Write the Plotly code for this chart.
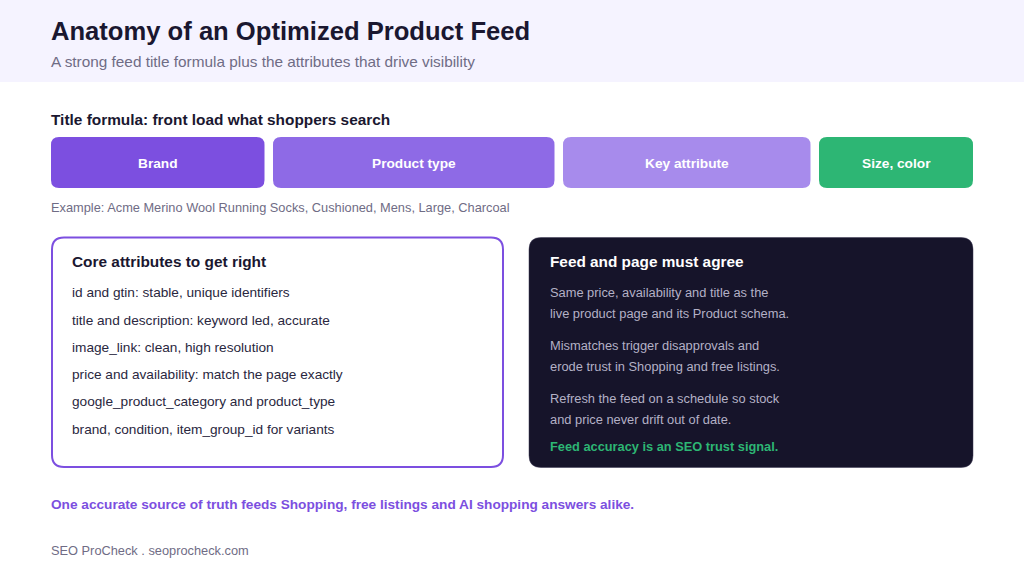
"""Anatomy of an optimized product feed: title formula strip plus two text panels."""

import plotly.graph_objects as go

INK = "#1A1730"
MUTED = "#6F6C85"
PURPLE = "#7C4FE0"
GREEN = "#2DB674"
DARK = "#16142A"
FONT = "Liberation Sans"
H = 576

TITLE = "Anatomy of an Optimized Product Feed"
SUBTITLE = "A strong feed title formula plus the attributes that drive visibility"
FORMULA_HEADING = "Title formula: front load what shoppers search"
EXAMPLE = "Example: Acme Merino Wool Running Socks, Cushioned, Mens, Large, Charcoal"
LEFT_HEADING = "Core attributes to get right"
RIGHT_HEADING = "Feed and page must agree"
RIGHT_NOTE = "Feed accuracy is an SEO trust signal."
TAKEAWAY = "One accurate source of truth feeds Shopping, free listings and AI shopping answers alike."
FOOTER = "SEO ProCheck . seoprocheck.com"

# formula strip: label, start and width of each segment on the 1024 px wide axis
segment_labels = ["Brand", "Product type", "Key attribute", "Size, color"]
segment_starts = [51, 273, 563, 819]
segment_widths = [213.5, 281.5, 247.5, 154]
segment_colors = [PURPLE, "#8E6AE6", "#A78BEC", GREEN]

left_lines = [
    "id and gtin: stable, unique identifiers",
    "title and description: keyword led, accurate",
    "image_link: clean, high resolution",
    "price and availability: match the page exactly",
    "google_product_category and product_type",
    "brand, condition, item_group_id for variants",
]
left_line_y = [292.5, 320, 347, 374.5, 401.5, 429]

right_lines = [
    "Same price, availability and title as the",
    "live product page and its Product schema.",
    "Mismatches trigger disapprovals and",
    "erode trust in Shopping and free listings.",
    "Refresh the feed on a schedule so stock",
    "and price never drift out of date.",
]
right_line_y = [292.5, 313, 345.5, 366, 398.5, 419]


def rounded(x0, y0, x1, y1, r):
    # y values are measured from the top of the page
    y0, y1 = H - y0, H - y1
    return (
        f"M{x0 + r},{y0} L{x1 - r},{y0} Q{x1},{y0} {x1},{y0 - r} "
        f"L{x1},{y1 + r} Q{x1},{y1} {x1 - r},{y1} L{x0 + r},{y1} "
        f"Q{x0},{y1} {x0},{y1 + r} L{x0},{y0 - r} Q{x0},{y0} {x0 + r},{y0} Z"
    )


def label(x, y, text, size, color, bold=False, anchor="left"):
    return dict(
        x=x, y=H - y, text=f"<b>{text}</b>" if bold else text,
        showarrow=False, xanchor=anchor, yanchor="middle", align=anchor,
        borderpad=0, borderwidth=0,
        font=dict(family=FONT, size=size, color=color),
    )


fig = go.Figure()

shapes = [
    dict(type="rect", x0=0, x1=1024, y0=H - 82, y1=H, fillcolor="#F5F3FF", line_width=0, layer="below"),
    dict(type="path", path=rounded(52, 237.5, 503, 467, 12), fillcolor="#FFFFFF",
         line=dict(color=PURPLE, width=2), layer="below"),
    dict(type="path", path=rounded(529, 237.5, 973, 467.5, 12), fillcolor=DARK,
         line=dict(color="#3A3752", width=0.5), layer="below"),
]
for start, width, color in zip(segment_starts, segment_widths, segment_colors):
    shapes.append(dict(type="path", path=rounded(start, 137, start + width, 188, 8),
                       fillcolor=color, line_width=0, layer="below"))

annotations = [
    label(50.5, 30.5, TITLE, 25.6, INK, bold=True),
    label(50.5, 61, SUBTITLE, 15.35, MUTED),
    label(50.5, 119.5, FORMULA_HEADING, 15.4, INK, bold=True),
    label(50.5, 207.5, EXAMPLE, 12.8, MUTED),
    label(72, 261, LEFT_HEADING, 15.4, INK, bold=True),
    label(550, 261, RIGHT_HEADING, 15.35, "#FFFFFF", bold=True),
    label(550, 446, RIGHT_NOTE, 12.8, GREEN, bold=True),
    label(50.5, 504, TAKEAWAY, 13.65, PURPLE, bold=True),
    label(50.5, 550, FOOTER, 12.8, MUTED),
]
for name, start, width in zip(segment_labels, segment_starts, segment_widths):
    annotations.append(label(start + width / 2, 163.5, name, 13.7, "#FFFFFF", bold=True, anchor="center"))
for line, y in zip(left_lines, left_line_y):
    annotations.append(label(72, y, line, 13.65, "#2A2740"))
for line, y in zip(right_lines, right_line_y):
    annotations.append(label(550, y, line, 12.85, "#B4B1C6"))

fig.update_layout(
    width=1024, height=H,
    margin=dict(l=0, r=0, t=0, b=0),
    paper_bgcolor="#FFFFFF", plot_bgcolor="#FFFFFF",
    shapes=shapes, annotations=annotations,
    xaxis=dict(range=[0, 1024], visible=False, fixedrange=True),
    yaxis=dict(range=[0, H], visible=False, fixedrange=True),
    showlegend=False,
)

fig.write_html(
    "out.html",
    config={"displayModeBar": False},
    post_script="document.body.style.margin='0';document.body.style.overflow='hidden';",
)
